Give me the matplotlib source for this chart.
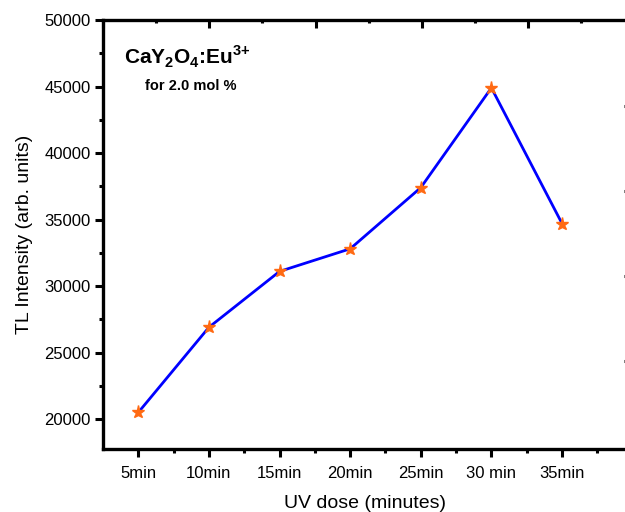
import matplotlib.pyplot as plt
from matplotlib.ticker import MultipleLocator, NullFormatter

plt.rcParams['font.family'] = ['Liberation Sans', 'DejaVu Sans']
plt.rcParams['mathtext.fontset'] = 'custom'
plt.rcParams['mathtext.rm'] = 'Liberation Sans'
plt.rcParams['mathtext.bf'] = 'Liberation Sans:bold'

# UV dose categories and TL intensity
doses = ["5min", "10min", "15min", "20min", "25min", "30 min", "35min"]
intensity = [20500, 26900, 31100, 32800, 37400, 44900, 34700]

fig = plt.figure(figsize=(6.25, 5.12), dpi=100)
ax = fig.add_axes([103 / 625, 1 - 449 / 512, (627 - 103) / 625, (449 - 20) / 512])

x = list(range(1, len(doses) + 1))
ax.plot(x, intensity, color="#0000ff", lw=2.0, zorder=2)
ax.plot(x, intensity, ls="none", marker="*", ms=9.5, color="#ff6a13",
        mec="#ff6a13", zorder=3)

ax.set_xlim(0.5, 7.92)
ax.set_ylim(17750, 50000)
ax.set_xticks(x)
ax.set_xticklabels(doses)
ax.set_xticks([i + 0.5 for i in x], minor=True)
ax.xaxis.set_minor_formatter(NullFormatter())
ax.yaxis.set_major_locator(MultipleLocator(5000))
ax.yaxis.set_minor_locator(MultipleLocator(2500))

ax.tick_params(which="major", direction="out", length=6, width=2.2,
               labelsize=12, pad=6)
ax.tick_params(which="minor", direction="out", length=3, width=2.2)
ax.tick_params(axis="y", labelsize=12, pad=3)

for s in ax.spines.values():
    s.set_linewidth(2.4)

ax.set_xlabel("UV dose (minutes)", fontsize=14, labelpad=10)
ax.set_ylabel("TL Intensity (arb. units)", fontsize=14, labelpad=8)

# secondary axes on top and right (Origin-style frame ticks)
axt = ax.twiny()
axt.set_xlim(0, 4.93)
axt.xaxis.set_major_locator(MultipleLocator(1))
axt.xaxis.set_minor_locator(MultipleLocator(0.5))
axt.tick_params(which="major", direction="in", length=6, width=2.2, labeltop=False)
axt.tick_params(which="minor", direction="in", length=2.5, width=2.2)

axr = ax.twinx()
axr.set_ylim(-0.035, 5.012)
axr.set_yticks([1, 2, 3, 4])
axr.tick_params(direction="in", length=2.5, width=2.2, labelright=False)

ax.text(0.04, 0.914, r"CaY$_\mathbf{2}$O$_\mathbf{4}$:Eu$^{\mathbf{3{+}}}$",
        transform=ax.transAxes, fontsize=15, fontweight="bold", va="center")
ax.text(0.08, 0.846, "for 2.0 mol %", transform=ax.transAxes,
        fontsize=10.5, fontweight="bold", va="center")

fig.savefig("out.png", dpi=100)
